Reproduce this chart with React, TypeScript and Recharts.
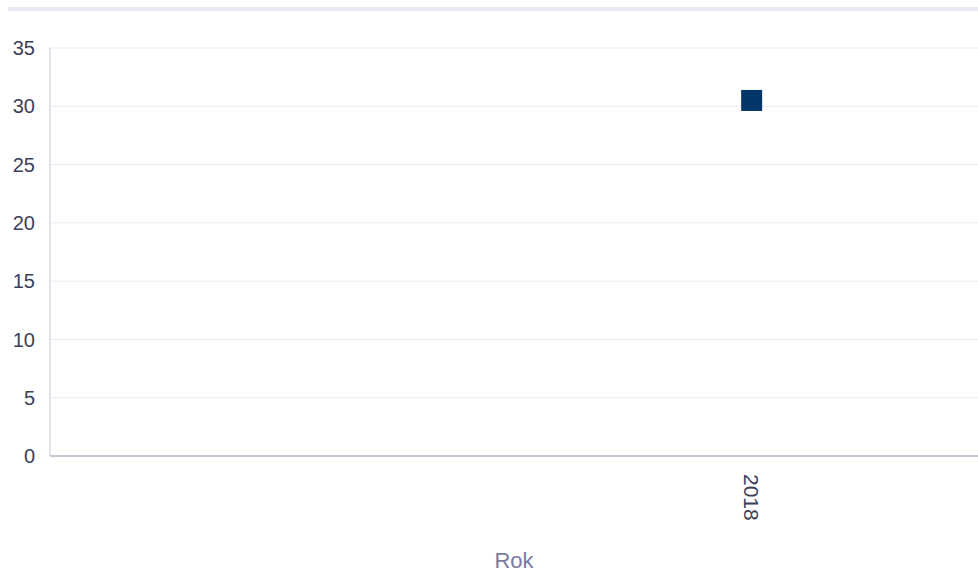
import React from 'react';
import { ScatterChart, Scatter, XAxis, YAxis, CartesianGrid } from 'recharts';

const years = [2018];
const values = [30.5];
const yTicks = [0, 5, 10, 15, 20, 25, 30, 35];
const xTicks = [2018];

const data = years.map((y, i) => ({ x: y, y: values[i] }));

const FONT = "'Liberation Sans', Arial, sans-serif";

const XTick = (props: any) => {
  const { x, y, payload } = props;
  return (
    <text
      x={x}
      y={y + 10}
      transform={`rotate(90 ${x} ${y + 10})`}
      textAnchor="start"
      dominantBaseline="central"
      fill="#3d4058"
      fontSize={21}
      fontFamily={FONT}
    >
      {payload.value}
    </text>
  );
};

const SquareMark = (props: any) => {
  const { cx, cy, fill } = props;
  const s = 21;
  return <rect x={cx - s / 2} y={cy - s / 2} width={s} height={s} fill={fill} />;
};

export default function App() {
  return (
    <div style={{ position: 'absolute', left: 0, top: 0, width: 978, height: 573, background: '#fff' }}>
      <div style={{ position: 'absolute', left: 8, top: 7, width: 970, height: 4, background: '#e9e9ef' }} />
      <ScatterChart width={978} height={573} margin={{ top: 48, right: 0, bottom: 0, left: 0 }}>
        <CartesianGrid horizontal vertical={false} stroke="#ebebf0" strokeWidth={1} />
        <XAxis
          type="number"
          dataKey="x"
          domain={[2014.9, 2019]}
          ticks={xTicks}
          height={117}
          tick={<XTick />}
          tickLine={false}
          axisLine={{ stroke: '#c5c6d6', strokeWidth: 2 }}
          label={{ value: 'Rok', position: 'insideBottom', offset: 5, fill: '#7a7b9e', fontSize: 22, fontFamily: FONT }}
        />
        <YAxis
          type="number"
          dataKey="y"
          domain={[0, 35]}
          ticks={yTicks}
          width={50}
          tickLine={false}
          axisLine={{ stroke: '#c5c6d6', strokeWidth: 1 }}
          tick={{ fill: '#3d4058', fontSize: 20, fontFamily: FONT }}
          tickMargin={9}
        />
        <Scatter data={data} fill="#02356a" shape={<SquareMark />} isAnimationActive={false} />
      </ScatterChart>
    </div>
  );
}
